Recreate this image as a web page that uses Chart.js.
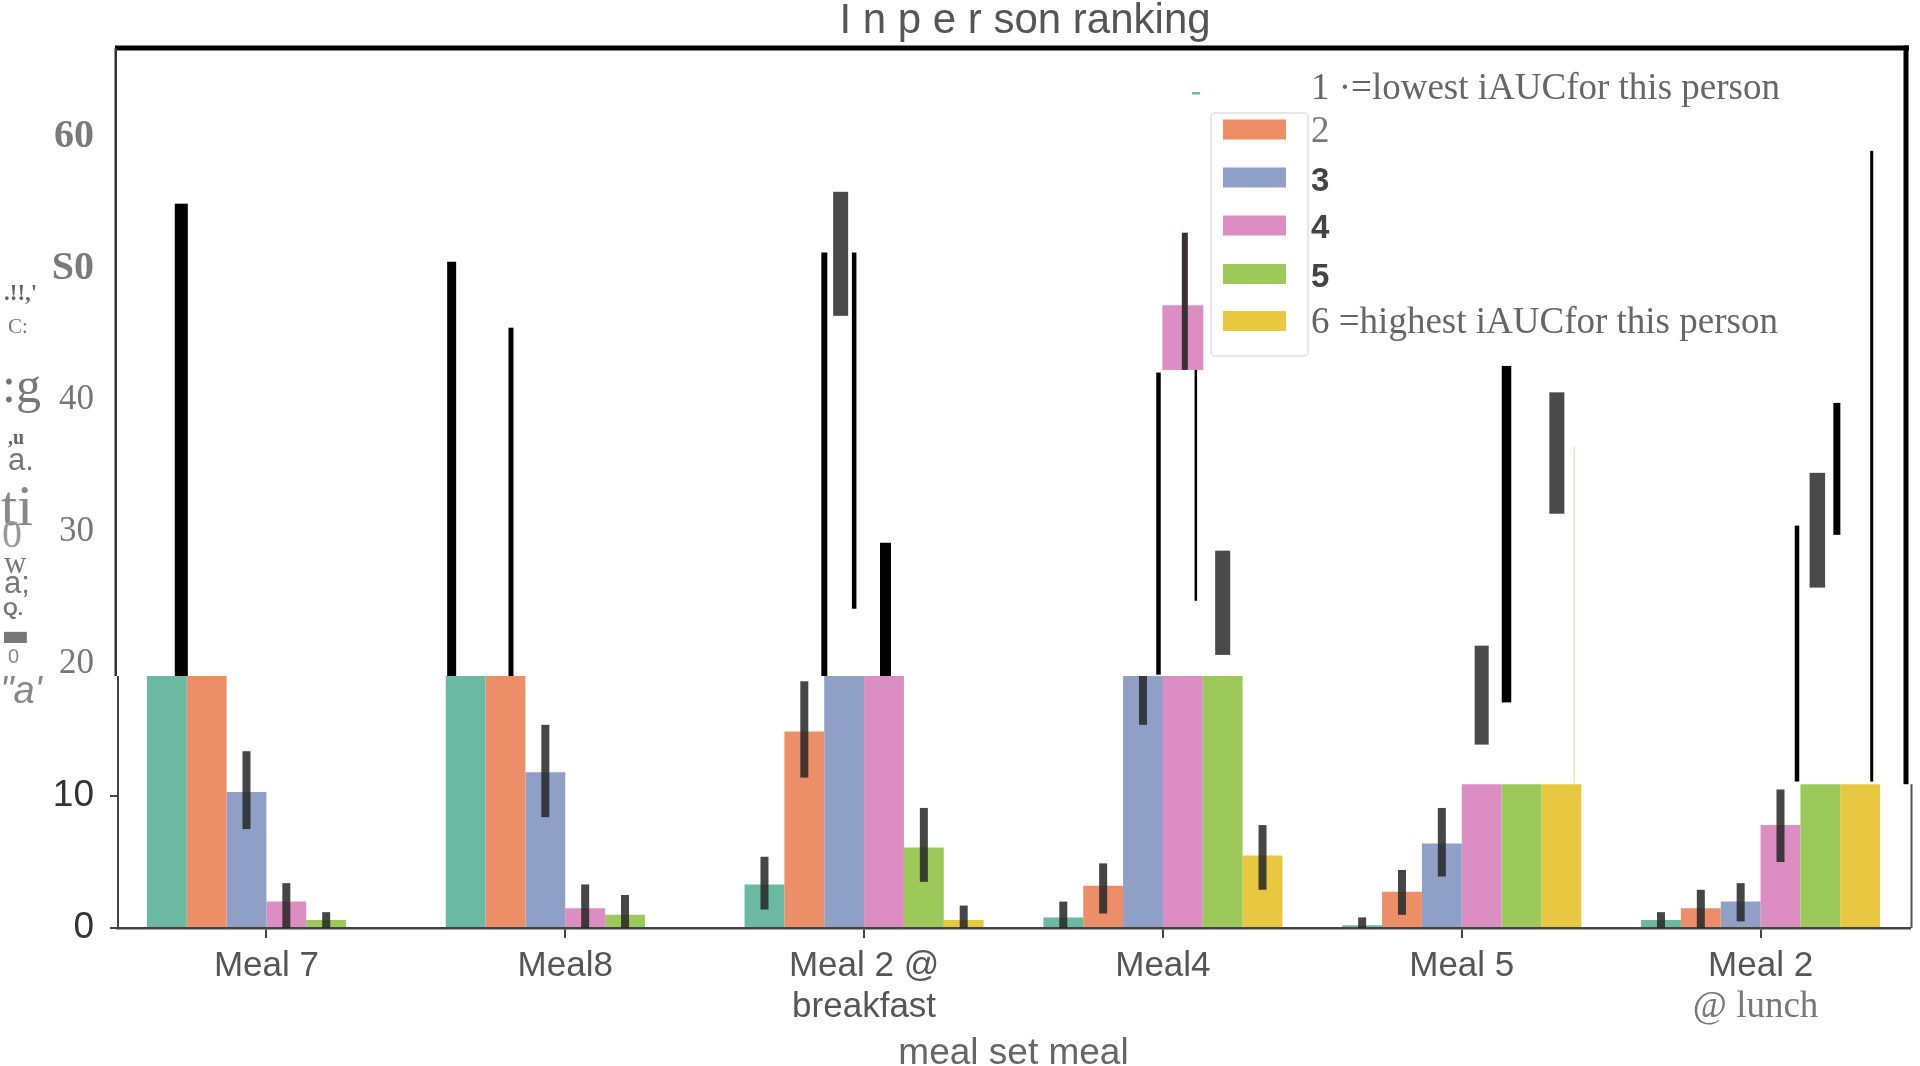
<!DOCTYPE html>
<html>
<head>
<meta charset="utf-8">
<script src="https://cdn.jsdelivr.net/npm/chart.js@4.4.1/dist/chart.umd.min.js"></script>
<style>
  html, body { margin: 0; padding: 0; background: #fff; }
  #wrap { width: 1920px; height: 1066px; position: relative; }
</style>
</head>
<body>
<div id="wrap"><canvas id="rankChart"></canvas></div>
<script>
// categories
const meals = ['Meal 7', 'Meal8', ['Meal 2 @', 'breakfast'], 'Meal4', 'Meal 5', ['Meal 2', '@ lunch']];
const rankNames = ['1', '2', '3', '4', '5', '6'];
const legendText = ['1 \u00b7=lowest iAUCfor this person', '2', '3', '4', '5', '6 =highest iAUCfor this person'];

// visible bar heights per rank (tall bars are cut off at the break)
const rank1 = [19.1, 19.1, 3.3, 0.8, 0.2, 0.6];
const rank2 = [19.1, 19.1, 14.9, 3.2, 2.75, 1.5];
const rank3 = [10.3, 11.8, 19.1, 19.1, 6.4, 2.0];
const rank4 = [2.0, 1.5, 19.1, 19.1, 10.9, 7.8];
const rank5 = [0.6, 1.0, 6.1, 19.1, 10.9, 10.9];
const rank6 = [0, 0, 0.6, 5.5, 10.9, 10.9];

// error bars in the lower panel, [low, high] or null
const err1 = [null, null, [1.4, 5.4], [0, 2.0], [0, 0.8], [0, 1.2]];
const err2 = [null, null, [11.4, 18.7], [1.1, 4.9], [1.0, 4.4], [0, 2.9]];
const err3 = [[7.5, 13.4], [8.4, 15.4], null, [15.4, 19.1], [3.9, 9.1], [0.5, 3.4]];
const err4 = [[0, 3.4], [0, 3.3], null, null, null, [5.0, 10.5]];
const err5 = [[0, 1.2], [0, 2.5], [3.5, 9.1], null, null, null];
const err6 = [null, null, [0, 1.7], [2.9, 7.8], null, null];

// where the panels are cut (left part, right part)
const breakLeft = 19.1;
const breakRight = 10.9;

// y ticks
const yTickValues = [0, 10, 20, 30, 40, 50, 60];
const yTickText = ['0', '10', '20', '30', '40', 'S0', '60'];

// stray segments above the break: meal index, rank index, low, high
const upperMeal = [0, 1, 1, 2, 2, 2, 2, 3, 3, 3, 3, 3, 4, 4, 4, 4, 5, 5, 5, 5];
const upperRank = [0, 0, 1, 1, 2, 2, 3, 3, 3, 2, 3, 4, 3, 4, 5, 5, 3, 4, 4, 5];
const upperLow  = [19.1, 19.1, 19.1, 19.1, 46.4, 24.2, 19.1, 42.3, 42.3, 19.2, 24.8, 20.7, 13.9, 17.1, 31.4, 10.9, 11.1, 25.8, 29.8, 11.1];
const upperHigh = [54.9, 50.5, 45.5, 51.2, 55.8, 51.2, 29.2, 47.2, 52.7, 42.1, 42.3, 28.6, 21.4, 42.6, 40.6, 36.5, 30.5, 34.5, 39.8, 58.9];

// styling of those segments (shift from bar centre and width in px)
const upperShift = [14.5, -14, 5.5, 20, -3.5, 10, 1.5, 0, 2, 15.5, 13, 0, 0, -15, -4.5, 13, 16.5, -3, 16.5, 11.5];
const upperWidth = [13, 9, 5, 6, 15, 4.5, 11, 41, 6, 4.5, 2.5, 15, 14, 9.5, 15, 1.5, 4.5, 15.5, 7, 3];
const upperColor = ['#000', '#000', '#000', '#000', '#4a4a4a', '#000', '#000', 'bar', '#3a3035', '#000', '#000', '#4a4a4a',
                    '#4a4a4a', '#000', '#4a4a4a', '#efe4bf', '#000', '#4a4a4a', '#000', '#000'];

const colors = ['#6bb9a0', '#ec8f68', '#8f9fc6', '#dc8ec3', '#9dc95b', '#e7c840'];
const allRanks = [rank1, rank2, rank3, rank4, rank5, rank6];
const allErrs = [err1, err2, err3, err4, err5, err6];

// garbled y axis title, piece by piece (text, left x, baseline y, font, colour)
const yTitleBits = [
    ['.!!,\'', 4, 300, 'bold 23px "Liberation Serif"', '#666'],
    ['C:', 8, 333, '21px "Liberation Serif"', '#777'],
    [':g', 2, 402, '50px "Liberation Serif"', '#777'],
    [',u', 8, 444, 'bold 20px "Liberation Serif"', '#666'],
    ['a.', 8, 470, '31px "Liberation Sans"', '#777'],
    ['ti', 1, 525, '58px "Liberation Serif"', '#888'],
    ['0', 2, 547, '40px "Liberation Serif"', '#999'],
    ['w', 4, 573, '31px "Liberation Serif"', '#777'],
    ['a;', 4, 593, '31px "Liberation Sans"', '#777'],
    ['Q.', 3, 615, 'bold 19px "Liberation Sans"', '#777'],
    ['\u25ac', 1, 645, '30px "DejaVu Sans"', '#777'],
    ['0', 8, 663, '20px "Liberation Sans Narrow", "Liberation Sans"', '#888'],
    ['"a\'', 0, 703, 'italic 38px "Liberation Sans"', '#888']
];

const errorBars = {
    id: 'errorBars',
    afterDatasetsDraw(chart) {
        const ctx = chart.ctx;
        const y = chart.scales.y;
        ctx.save();
        ctx.fillStyle = 'rgba(38,38,38,0.85)';
        allErrs.forEach((errs, i) => {
            const meta = chart.getDatasetMeta(i);
            errs.forEach((e, j) => {
                if (!e) return;
                const bar = meta.data[j];
                const top = y.getPixelForValue(e[1]);
                const bottom = y.getPixelForValue(e[0]);
                ctx.fillRect(bar.x - 4, top, 8, bottom - top);
            });
        });
        // segments above the break
        upperMeal.forEach((m, k) => {
            const bar = chart.getDatasetMeta(upperRank[k]).data[m];
            const top = y.getPixelForValue(upperHigh[k]);
            const bottom = y.getPixelForValue(upperLow[k]);
            const w = upperWidth[k];
            ctx.fillStyle = upperColor[k] === 'bar' ? colors[upperRank[k]] : upperColor[k];
            ctx.fillRect(bar.x + upperShift[k] - w / 2, top, w, bottom - top);
        });
        ctx.restore();
    }
};

const frameAndText = {
    id: 'frameAndText',
    afterDraw(chart) {
        const ctx = chart.ctx;
        const a = chart.chartArea;
        const y = chart.scales.y;
        const bl = y.getPixelForValue(breakLeft);
        const br = y.getPixelForValue(breakRight);
        ctx.save();
        // upper frame
        ctx.fillStyle = '#000';
        ctx.fillRect(a.left - 2, a.top - 2.5, a.right - a.left + 1, 5);
        ctx.fillRect(a.right - 6.5, a.top - 2.5, 5, br - a.top + 2.5);
        ctx.fillStyle = '#333';
        ctx.fillRect(a.left - 2.5, a.top, 2.5, bl - a.top);
        // lower spines
        ctx.fillStyle = '#444';
        ctx.fillRect(a.left, bl, 2, a.bottom - bl);
        ctx.fillStyle = '#555';
        ctx.fillRect(a.right + 0.5, br, 2, a.bottom - br);

        // title
        ctx.fillStyle = '#555';
        ctx.font = '42px "Liberation Sans"';
        ctx.textAlign = 'center';
        ctx.textBaseline = 'alphabetic';
        ctx.fillText('I n p e r son ranking', 1025, 33);

        // second line of the last meal label is set in a serif face
        ctx.font = '37px "Liberation Serif"';
        ctx.fillStyle = '#777';
        ctx.fillText(meals[5][1], chart.scales.x.getPixelForTick(5) - 5, 1017);

        // y title scraps
        ctx.textAlign = 'left';
        yTitleBits.forEach(b => {
            ctx.font = b[3];
            ctx.fillStyle = b[4];
            ctx.fillText(b[0], b[1], b[2]);
        });

        // legend
        ctx.strokeStyle = 'rgba(0,0,0,0.13)';
        ctx.lineWidth = 1.5;
        ctx.beginPath();
        ctx.roundRect(1211, 113, 97, 243, 4);
        ctx.stroke();
        ctx.fillStyle = colors[0];
        ctx.fillRect(1192, 92, 8, 2.5);
        const rowY = [81.6, 129.5, 177.5, 225.5, 274, 321];
        const textY = [99, 142, 191, 238, 287, 333];
        const rowFont = ['37px "Liberation Serif"', '37px "Liberation Serif"', 'bold 33px "Liberation Sans"',
                         'bold 33px "Liberation Sans"', 'bold 33px "Liberation Sans"', '37px "Liberation Serif"'];
        const rowColor = ['#666', '#777', '#444', '#444', '#444', '#666'];
        rankNames.forEach((r, i) => {
            if (i > 0) {
                ctx.fillStyle = colors[i];
                ctx.fillRect(1223, rowY[i] - 10, 63, 20);
            }
            ctx.font = rowFont[i];
            ctx.fillStyle = rowColor[i];
            ctx.fillText(legendText[i], 1311, textY[i]);
        });
        ctx.restore();
    }
};

new Chart(document.getElementById('rankChart'), {
    type: 'bar',
    data: {
        labels: meals,
        datasets: allRanks.map((vals, i) => ({
            label: rankNames[i],
            data: vals,
            backgroundColor: colors[i],
            borderWidth: 0,
            categoryPercentage: 0.8,
            barPercentage: 1.0
        }))
    },
    options: {
        responsive: true,
        maintainAspectRatio: false,
        animation: false,
        devicePixelRatio: 1,
        layout: { padding: { top: 48, right: 10, left: 0, bottom: 0 } },
        plugins: {
            legend: { display: false },
            title: { display: false },
            tooltip: { enabled: false }
        },
        scales: {
            x: {
                afterFit(scale) { scale.height = 138; },
                grid: { offset: false, drawOnChartArea: false, drawTicks: true, tickLength: 10, color: '#444', lineWidth: 2 },
                border: { display: true, color: '#444', width: 2.5 },
                ticks: {
                    padding: 8,
                    color: '#555',
                    maxRotation: 0,
                    autoSkip: false,
                    callback: (v, i) => (i === 5 ? [meals[5][0], ''] : meals[i]),
                    font: { family: '"Liberation Sans"', size: 35, lineHeight: 1.17 }
                },
                title: {
                    display: true,
                    text: 'meal set meal',
                    color: '#666',
                    font: { family: '"Liberation Sans"', size: 37, lineHeight: 0.68 },
                    padding: { top: 0, bottom: 0 }
                }
            },
            y: {
                min: 0,
                max: 66.7,
                afterFit(scale) { scale.width = 117; },
                border: { display: false },
                grid: {
                    drawOnChartArea: false,
                    drawTicks: true,
                    tickLength: 7,
                    lineWidth: 2,
                    color: (c) => (c.tick && c.tick.value <= 10) ? '#444' : 'rgba(0,0,0,0)'
                },
                ticks: {
                    stepSize: 10,
                    padding: 16,
                    callback: (v) => {
                        const i = yTickValues.indexOf(v);
                        return i < 0 ? '' : yTickText[i];
                    },
                    color: (c) => {
                        const v = c.tick ? c.tick.value : 0;
                        return v <= 10 ? '#333' : (v >= 50 ? '#7a7a7a' : '#777');
                    },
                    font: (c) => {
                        const v = c.tick ? c.tick.value : 0;
                        if (v <= 10) return { family: '"Liberation Sans Narrow", "Liberation Sans"', size: 37 };
                        if (v >= 50) return { family: '"Liberation Serif"', size: 40, weight: 'bold' };
                        return { family: '"Liberation Serif"', size: 35 };
                    }
                }
            }
        }
    },
    plugins: [errorBars, frameAndText]
});
</script>
</body>
</html>
